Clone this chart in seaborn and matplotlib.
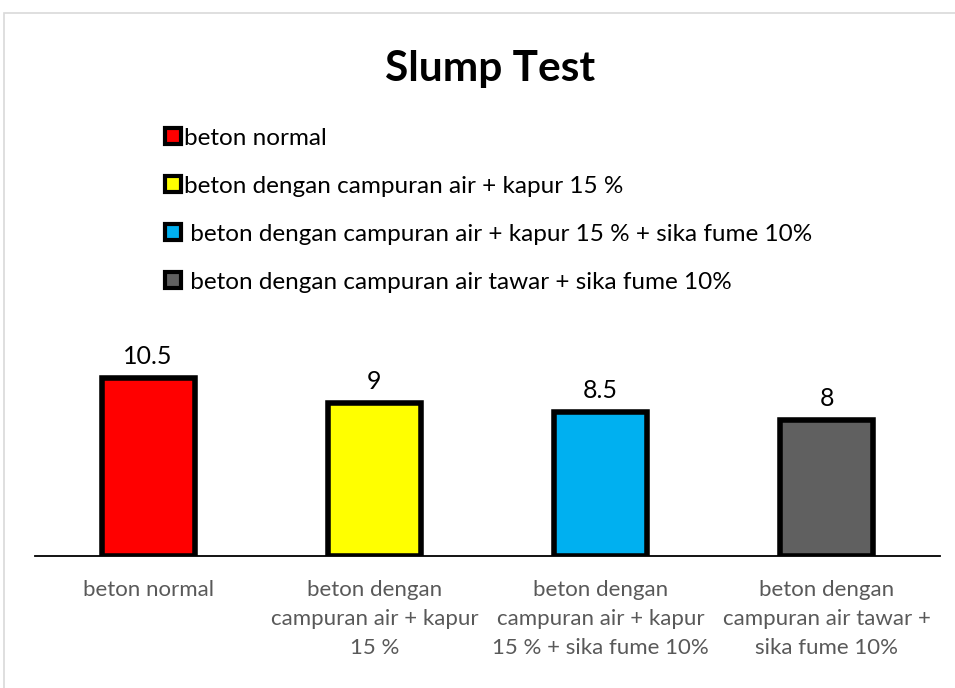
import matplotlib.pyplot as plt
import numpy as np
import pandas as pd
import seaborn as sns
from matplotlib.lines import Line2D
from matplotlib.patches import Rectangle

# data
tick_labels = ['beton normal',
               'beton dengan\ncampuran air + kapur\n15 %',
               'beton dengan\ncampuran air + kapur\n15 % + sika fume 10%',
               'beton dengan\ncampuran air tawar +\nsika fume 10%']
legend_labels = ['beton normal',
                 'beton dengan campuran air + kapur 15 %',
                 ' beton dengan campuran air + kapur 15 % + sika fume 10%',
                 ' beton dengan campuran air tawar + sika fume 10%']
values = [10.5, 9, 8.5, 8]
value_text = ['10.5', '9', '8.5', '8']
colors = ['#ff0000', '#ffff00', '#00b0f0', '#606060']

df = pd.DataFrame({'kategori': tick_labels, 'nilai': values})

sns.set_style('white')
plt.rcParams['font.family'] = ['Lato', 'DejaVu Sans']
plt.rcParams['text.color'] = 'black'

fig = plt.figure(figsize=(9.55, 6.88), dpi=100)
fig.patches.append(Rectangle((4 / 955, -0.01), 1.0, (688 - 13) / 688 + 0.01,
                             transform=fig.transFigure, fill=False,
                             edgecolor='#d9d9d9', linewidth=1.2, zorder=-1))

ax = fig.add_axes([35 / 955, 132 / 688, 905 / 955, 256 / 688])
sns.barplot(data=df, x='kategori', y='nilai', hue='kategori', palette=colors,
            saturation=1, width=0.41, edgecolor='black', linewidth=4,
            legend=False, ax=ax)

ax.set_ylim(0, 256 / 16.95)
ax.set_xlim(-0.5, 3.5)
for i, (v, t) in enumerate(zip(values, value_text)):
    ax.text(i, v + 0.6, t, ha='center', va='bottom', fontsize=18, color='black')

for s in ['top', 'right', 'left']:
    ax.spines[s].set_visible(False)
ax.spines['bottom'].set_color('black')
ax.spines['bottom'].set_linewidth(1.3)
ax.set_yticks([])
ax.set_xlabel('')
ax.set_ylabel('')
ax.tick_params(axis='x', length=0, pad=17, labelsize=16, labelcolor='#595959')
for lbl in ax.get_xticklabels():
    lbl.set_linespacing(1.58)

handles = [Line2D([], [], marker='s', linestyle='none', markersize=12,
                  markerfacecolor=c, markeredgecolor='black', markeredgewidth=3)
           for c in colors]
fig.legend(handles, legend_labels, loc='upper left',
           bbox_to_anchor=(155 / 955, (688 - 118) / 688), frameon=False,
           fontsize=17.5, handlelength=0.7, handletextpad=0.1, labelspacing=1.11,
           borderaxespad=0)

fig.text(490 / 955, (688 - 69) / 688, 'Slump Test', ha='center', va='center',
         fontsize=30.5, fontweight='bold')

fig.savefig('out.png', dpi=100)
